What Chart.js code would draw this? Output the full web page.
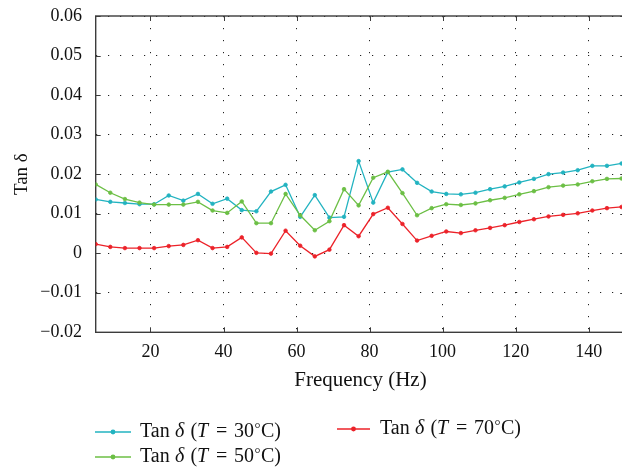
<!DOCTYPE html>
<html><head><meta charset="utf-8">
<script src="https://cdn.jsdelivr.net/npm/chart.js@4.4.1/dist/chart.umd.min.js"></script>
<style>
html,body{margin:0;padding:0;overflow:hidden;background:#fff;width:622px;height:470px}
#wrap{position:absolute;left:0;top:0;width:630px;height:470px}
</style></head>
<body><div id="wrap"><canvas id="c" width="630" height="470"></canvas></div>
<script>
const frequencies = [5,9,13,17,21,25,29,33,37,41,45,49,53,57,61,65,69,73,77,81,85,89,93,97,101,105,109,113,117,121,125,129,133,137,141,145,149];
const tanDelta30 = [0.0136,0.0130,0.0127,0.0124,0.0124,0.0146,0.0133,0.0150,0.0125,0.0138,0.0109,0.0106,0.0156,0.0173,0.0092,0.0147,0.0090,0.0092,0.0233,0.0128,0.0205,0.0212,0.0178,0.0156,0.0150,0.0149,0.0153,0.0162,0.0169,0.0179,0.0188,0.0200,0.0204,0.0210,0.0221,0.0221,0.0227];
const tanDelta50 = [0.0174,0.0153,0.0137,0.0128,0.0123,0.0123,0.0123,0.0130,0.0108,0.0102,0.0131,0.0076,0.0076,0.0150,0.0096,0.0058,0.0081,0.0162,0.0121,0.0191,0.0206,0.0152,0.0096,0.0114,0.0124,0.0122,0.0126,0.0134,0.0140,0.0149,0.0157,0.0167,0.0171,0.0174,0.0182,0.0188,0.0189];
const tanDelta70 = [0.0023,0.0016,0.0013,0.0013,0.0013,0.0018,0.0021,0.0033,0.0013,0.0016,0.0040,0.0001,-0.0001,0.0057,0.0019,-0.0008,0.0009,0.0071,0.0043,0.0099,0.0115,0.0074,0.0032,0.0044,0.0055,0.0051,0.0058,0.0064,0.0071,0.0079,0.0086,0.0093,0.0097,0.0101,0.0108,0.0114,0.0117];
const xTicks = [20,40,60,80,100,120,140];
const yTicks = [-0.02,-0.01,0,0.01,0.02,0.03,0.04,0.05,0.06];
const yTickLabels = ['\u22120.02','\u22120.01','0','0.01','0.02','0.03','0.04','0.05','0.06'];
const temperatures = ['30','50','70'];
const colors = ['#22b3c0','#6cbf45','#ec2229'];

const FONT = '"Liberation Serif", "Times New Roman", serif';

function mk(vals){ return frequencies.map((f,i)=>({x:f,y:vals[i]})); }
const seriesVals = [tanDelta30, tanDelta50, tanDelta70];

const datasets = seriesVals.map((v,i)=>({
  label: 'Tan \u03b4 (T = ' + temperatures[i] + '\u00b0C)',
  data: mk(v),
  borderColor: colors[i],
  backgroundColor: colors[i],
  borderWidth: 1.3,
  pointRadius: 1.8,
  pointBorderWidth: 0.8,
  pointBackgroundColor: colors[i],
  pointBorderColor: colors[i],
  tension: 0,
  order: 3 - i
}));

const framePlugin = {
  id: 'frame',
  beforeDatasetsDraw(chart){
    const {ctx, chartArea:a, scales:{x,y}} = chart;
    ctx.save();
    ctx.strokeStyle = '#3c3c3c';
    ctx.lineWidth = 1.4;
    ctx.strokeRect(a.left, a.top, a.right - a.left, a.bottom - a.top);
    ctx.lineWidth = 1;
    ctx.beginPath();
    xTicks.forEach(v=>{
      const px = Math.round(x.getPixelForValue(v)) + 0.5;
      ctx.moveTo(px, a.bottom); ctx.lineTo(px, a.bottom - 5);
      ctx.moveTo(px, a.top); ctx.lineTo(px, a.top + 5);
    });
    yTicks.forEach(v=>{
      const py = Math.round(y.getPixelForValue(v)) + 0.5;
      ctx.moveTo(a.left, py); ctx.lineTo(a.left + 5, py);
      ctx.moveTo(a.right, py); ctx.lineTo(a.right - 5, py);
    });
    ctx.stroke();
    ctx.restore();
  }
};

const legendPos = [
  {x1: 95, x2: 131, y: 432, tx: 140},
  {x1: 95, x2: 131, y: 457, tx: 140},
  {x1: 337, x2: 370, y: 429, tx: 380}
];
// horizontal offsets of text pieces inside a legend label (px from label start)
const legendPieceOffsets = [0, 35, 50.5, 57, 76, 94, 114.5, 121];

const legendPlugin = {
  id: 'customLegend',
  afterDraw(chart){
    const ctx = chart.ctx;
    ctx.save();
    chart.data.datasets.forEach((ds, i)=>{
      const p = legendPos[i];
      ctx.strokeStyle = ds.borderColor;
      ctx.lineWidth = 1.3;
      ctx.beginPath(); ctx.moveTo(p.x1, p.y); ctx.lineTo(p.x2, p.y); ctx.stroke();
      ctx.fillStyle = ds.borderColor;
      ctx.beginPath(); ctx.arc((p.x1 + p.x2) / 2, p.y, 2.4, 0, Math.PI * 2); ctx.fill();
      const pieces = [
        ['Tan', false, 20, 0],
        ['\u03b4', true, 20, 0],
        ['(', false, 20, 0],
        ['T', true, 20, 0],
        ['=', false, 20, 0],
        [temperatures[i], false, 20, 0],
        ['\u00b0', false, 15, -3],
        ['C)', false, 20, 0]
      ];
      ctx.fillStyle = '#111';
      ctx.textBaseline = 'middle';
      ctx.textAlign = 'left';
      pieces.forEach((s, k)=>{
        ctx.font = (s[1] ? 'italic ' : '') + s[2] + 'px ' + FONT;
        ctx.fillText(s[0], p.tx + legendPieceOffsets[k], p.y + s[3]);
      });
    });
    ctx.restore();
  }
};

new Chart(document.getElementById('c'), {
  type: 'line',
  data: { datasets },
  options: {
    responsive: false,
    animation: false,
    devicePixelRatio: 1,
    layout: { padding: { left: 0, right: 4.6, top: 16, bottom: 0 } },
    plugins: { legend: { display: false }, tooltip: { enabled: false } },
    scales: {
      x: {
        type: 'linear', min: 5, max: 150,
        afterBuildTicks: s => { s.ticks = xTicks.map(v=>({value: v})); },
        afterFit: s => { s.height = 137.7; s.paddingLeft = 0; s.paddingRight = 0; },
        grid: { color: '#222', lineWidth: 1, drawTicks: false },
        border: { display: false, dash: [1.2, 10.8] },
        ticks: { autoSkip: false, maxRotation: 0, padding: 9, color: '#111',
                 font: { family: FONT, size: 18 }, callback: v => String(v) },
        title: { display: true, text: 'Frequency (Hz)', color: '#111',
                 font: { family: FONT, size: 21 }, padding: { top: 0, bottom: 77 } }
      },
      y: {
        type: 'linear', min: -0.02, max: 0.06,
        afterBuildTicks: s => { s.ticks = yTicks.map(v=>({value: v})); },
        afterFit: s => { s.width = 95.7; s.paddingTop = 0; s.paddingBottom = 0; },
        grid: { color: '#222', lineWidth: 1, drawTicks: false },
        border: { display: false, dash: [1.2, 10.8] },
        ticks: { autoSkip: false, padding: 13.7, color: '#111',
                 font: { family: FONT, size: 18 }, callback: (v, i) => yTickLabels[i] },
        title: { display: true, text: 'Tan \u03b4', color: '#111',
                 font: { family: FONT, size: 19 }, padding: { top: 11, bottom: 0 } }
      }
    }
  },
  plugins: [framePlugin, legendPlugin]
});
</script>
</body></html>
